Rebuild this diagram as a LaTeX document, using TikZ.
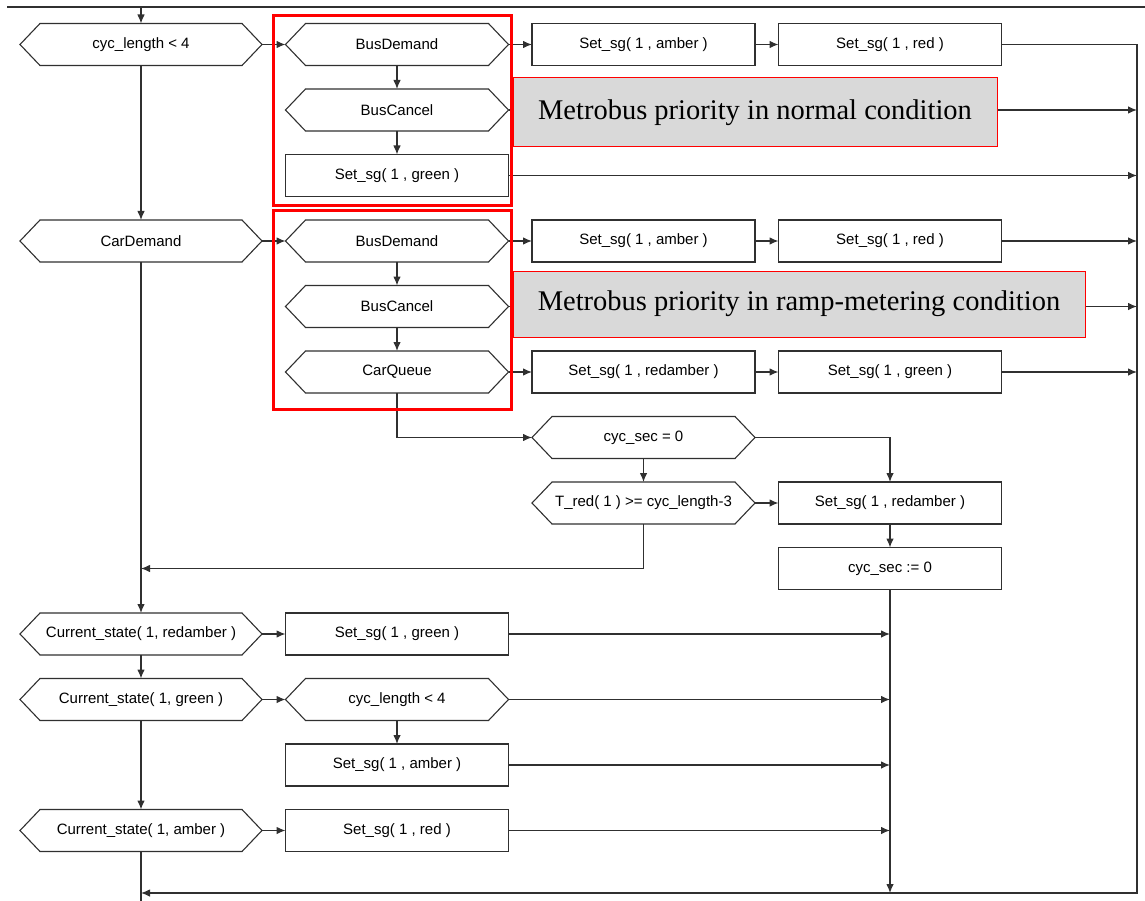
\documentclass[tikz,border=0pt]{standalone}
\usepackage{fontspec}
\setsansfont{Liberation Sans}
\newfontfamily\notefont{Liberation Serif}
\usepackage{tikz}
\usetikzlibrary{
    arrows.meta,
    positioning
}
\definecolor{linegray}{HTML}{303030}
\definecolor{notegray}{HTML}{D9D9D9}
\definecolor{framered}{HTML}{FF0000}
\tikzset{
    stepbox/.style = {
        rectangle,
        draw=linegray,
        line width=1.1pt,
        minimum width=223pt,
        minimum height=42pt,
        inner sep=0pt,
        outer sep=0pt,
        font=\sffamily\fontsize{15}{18}\selectfont
    },
    hexbox/.style = {
        rectangle,
        minimum width=223pt,
        minimum height=42pt,
        inner sep=0pt,
        outer sep=0pt,
        font=\sffamily\fontsize{15}{18}\selectfont
    },
    hexwide/.style = {
        hexbox,
        minimum width=242pt
    },
    hexline/.style = {
        draw=linegray,
        line width=1.1pt,
        line join=miter
    },
    note/.style = {
        rectangle,
        draw=framered,
        line width=1pt,
        fill=notegray,
        inner sep=0pt,
        font=\notefont\fontsize{28.5}{34}\selectfont
    },
    frame/.style = {
        draw=framered,
        line width=3pt
    },
    arrow/.style = {
        -{Latex[length=9pt,width=7.5pt]},
        draw=linegray,
        line width=1.1pt
    },
    wire/.style = {
        draw=linegray,
        line width=1.1pt
    }
}

\begin{document}
\begin{tikzpicture}[x=1pt, y=-1pt, node distance=23.5pt]
\useasboundingbox (0,0) rectangle (1145,901);

% upper block
\node (cycLenA) [hexwide] at (141,44.5) {cyc\_length < 4};
\node (busDemA) [hexbox, right=of cycLenA] {BusDemand};
\node (setAmberA) [stepbox, right=of busDemA] {Set\_sg( 1 , amber )};
\node (setRedA) [stepbox, right=of setAmberA] {Set\_sg( 1 , red )};
\node (busCanA) [hexbox, below=of busDemA] {BusCancel};
\node (setGreenA) [stepbox, below=of busCanA] {Set\_sg( 1 , green )};

\node (busDemB) [hexbox, below=of setGreenA] {BusDemand};
\node (carDem) [hexwide, left=of busDemB] {CarDemand};
\node (setAmberB) [stepbox, right=of busDemB] {Set\_sg( 1 , amber )};
\node (setRedB) [stepbox, right=of setAmberB] {Set\_sg( 1 , red )};
\node (busCanB) [hexbox, below=of busDemB] {BusCancel};
\node (carQueue) [hexbox, below=of busCanB] {CarQueue};
\node (setRedAmberA) [stepbox, right=of carQueue] {Set\_sg( 1 , redamber )};
\node (setGreenB) [stepbox, right=of setRedAmberA] {Set\_sg( 1 , green )};
\node (cycSec) [hexbox, below=of setRedAmberA] {cyc\_sec = 0};
\node (tRed) [hexbox, below=of cycSec] {T\_red( 1 ) >= cyc\_length-3};
\node (setRedAmberB) [stepbox, right=of tRed] {Set\_sg( 1 , redamber )};
\node (cycReset) [stepbox, below=of setRedAmberB] {cyc\_sec := 0};

% lower block
\node (curRedAmber) [hexwide] at (141,634) {Current\_state( 1, redamber )};
\node (setGreenC) [stepbox, right=of curRedAmber] {Set\_sg( 1 , green )};
\node (curGreen) [hexwide, below=of curRedAmber] {Current\_state( 1, green )};
\node (cycLenB) [hexbox, right=of curGreen] {cyc\_length < 4};
\node (setAmberC) [stepbox, below=of cycLenB] {Set\_sg( 1 , amber )};
\node (setRedC) [stepbox, below=of setAmberC] {Set\_sg( 1 , red )};
\node (curAmber) [hexwide, left=of setRedC] {Current\_state( 1, amber )};

% hexagon outlines
\foreach \n in {cycLenA, busDemA, busCanA, busDemB, carDem, busCanB, carQueue,
                cycSec, tRed, curRedAmber, curGreen, cycLenB, curAmber}
    \draw [hexline] (\n.west) -- ([xshift=20pt]\n.north west) -- ([xshift=-20pt]\n.north east)
        -- (\n.east) -- ([xshift=-20pt]\n.south east) -- ([xshift=20pt]\n.south west) -- cycle;

\coordinate (ruleL) at (7,7);
\coordinate (ruleR) at (1145,7);
\coordinate (entry) at (141,7);
\coordinate (busRight) at (1137,44.5);
\coordinate (busBottom) at (1137,893);
\coordinate (exit) at (141,901);

\draw [wire] (ruleL) -- (ruleR);
\draw [arrow] (entry) -- (cycLenA.north);
\draw [arrow] (cycLenA) -- (busDemA);
\draw [arrow] (busDemA) -- (setAmberA);
\draw [arrow] (setAmberA) -- (setRedA);
\draw [arrow] (busDemA) -- (busCanA);
\draw [arrow] (busCanA) -- (setGreenA);
\draw [arrow] (busCanA) -- (busCanA -| busRight);
\draw [arrow] (setGreenA) -- (setGreenA -| busRight);
\draw [arrow] (cycLenA) -- (carDem);
\draw [arrow] (carDem) -- (busDemB);
\draw [arrow] (busDemB) -- (setAmberB);
\draw [arrow] (setAmberB) -- (setRedB);
\draw [arrow] (setRedB) -- (setRedB -| busRight);
\draw [arrow] (busDemB) -- (busCanB);
\draw [arrow] (busCanB) -- (carQueue);
\draw [arrow] (busCanB) -- (busCanB -| busRight);
\draw [arrow] (carQueue) -- (setRedAmberA);
\draw [arrow] (setRedAmberA) -- (setGreenB);
\draw [arrow] (setGreenB) -- (setGreenB -| busRight);
\draw [arrow] (carQueue.south) |- (cycSec.west);
\draw [arrow] (cycSec) -- (tRed);
\draw [arrow] (cycSec.east) -| (setRedAmberB.north);
\draw [arrow] (tRed) -- (setRedAmberB);
\draw [arrow] (setRedAmberB) -- (cycReset);
\draw [arrow] (tRed.south) |- (carDem.south |- cycReset.west);
\draw [arrow] (carDem) -- (curRedAmber);
\draw [arrow] (curRedAmber) -- (setGreenC);
\draw [arrow] (setGreenC) -- (setGreenC -| cycReset.south);
\draw [arrow] (curRedAmber) -- (curGreen);
\draw [arrow] (curGreen) -- (cycLenB);
\draw [arrow] (cycLenB) -- (cycLenB -| cycReset.south);
\draw [arrow] (cycLenB) -- (setAmberC);
\draw [arrow] (setAmberC) -- (setAmberC -| cycReset.south);
\draw [arrow] (curGreen) -- (curAmber);
\draw [arrow] (curAmber) -- (setRedC);
\draw [arrow] (setRedC) -- (setRedC -| cycReset.south);
\draw [arrow] (cycReset) -- (cycReset |- busBottom);
\draw [arrow] (setRedA.east) -| (busBottom) -- (curAmber.south |- busBottom);
\draw [wire] (curAmber) -- (exit);

% notes and frames
\node (noteNormal) [note, minimum width=484pt, minimum height=69pt] at (755,112.5)
    {Metrobus priority in normal condition};
\node (noteRamp) [note, minimum width=572pt, minimum height=66pt] at (799,304)
    {Metrobus priority in ramp-metering condition};
\draw [frame] (273,16) rectangle (511,206);
\draw [frame] (273,211) rectangle (511,409);
\end{tikzpicture}
\end{document}
